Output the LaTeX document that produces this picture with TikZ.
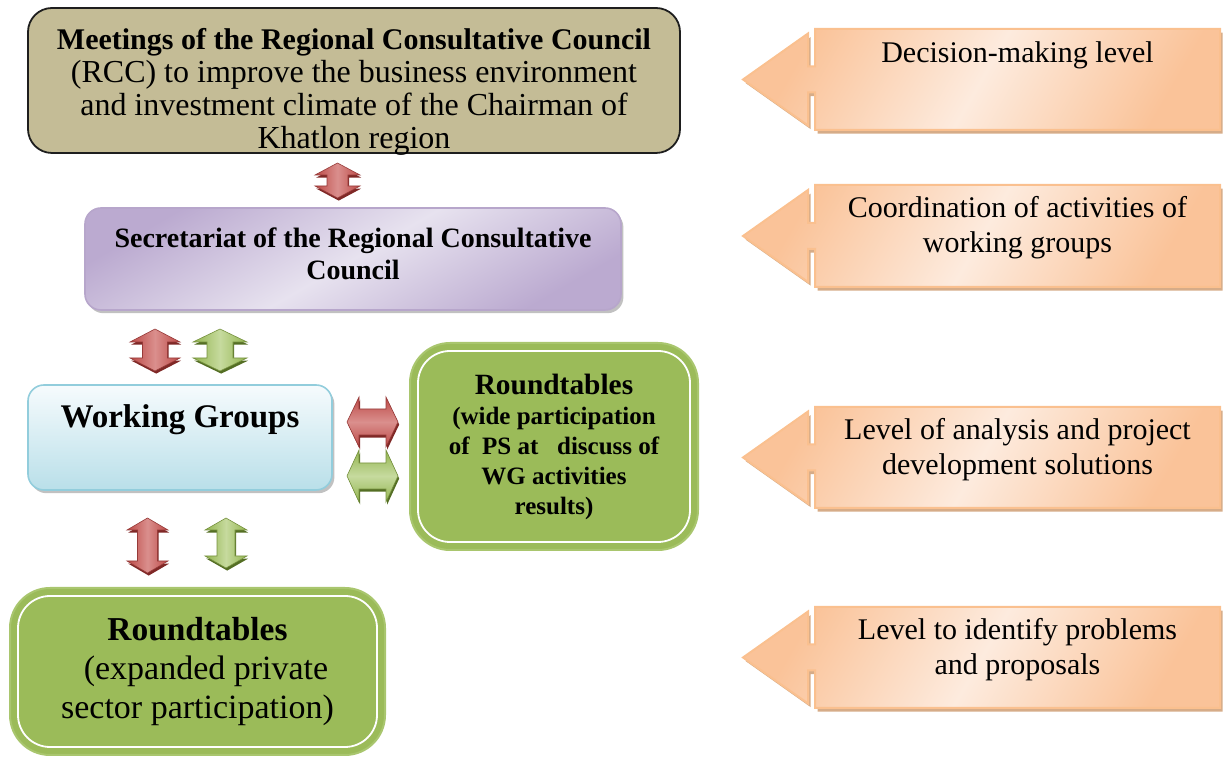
\documentclass[tikz,border=0pt]{standalone}
\usepackage{fontspec}
\setmainfont{Liberation Serif}
\usetikzlibrary{shadows,calc}
\definecolor{khaki}{HTML}{C4BC96}
\definecolor{khakiline}{HTML}{1E1E1E}
\definecolor{lilacA}{HTML}{BBAAD0}
\definecolor{lilacB}{HTML}{E7E2EF}
\definecolor{lilacline}{HTML}{B7A6CB}
\definecolor{blueA}{HTML}{F6FBFD}
\definecolor{blueB}{HTML}{B9DFE9}
\definecolor{blueline}{HTML}{92CDDC}
\definecolor{olive}{HTML}{9BBB59}
\definecolor{oliveline}{HTML}{A9C66E}
\definecolor{redA}{HTML}{BC4946}
\definecolor{redB}{HTML}{DA8F8D}
\definecolor{redS}{HTML}{7F2826}
\definecolor{grnA}{HTML}{93B54F}
\definecolor{grnB}{HTML}{C6DA9E}
\definecolor{grnS}{HTML}{546E24}
\definecolor{peachA}{HTML}{FAC399}
\definecolor{peachB}{HTML}{FDEBDE}
\definecolor{peachline}{HTML}{FAC08F}
\definecolor{peachS}{HTML}{D6AC88}
\tikzset{
  rccbox/.style={draw=khakiline, line width=0.9pt, fill=khaki, rounded corners=12pt, inner sep=0pt},
  secbox/.style={draw=lilacline, line width=0.8pt, rounded corners=8pt, top color=lilacA, bottom color=lilacA, middle color=lilacB, shading angle=30,
     drop shadow={shadow xshift=1.2pt, shadow yshift=-1.6pt, fill=black!35, opacity=0.7}},
  wgbox/.style={draw=blueline, line width=0.8pt, rounded corners=8pt, top color=blueA, bottom color=blueB,
     drop shadow={shadow xshift=1.2pt, shadow yshift=-1.6pt, fill=black!35, opacity=0.7}},
  grnbox/.style={draw=oliveline, line width=1pt, fill=olive, rounded corners=20pt, align=center, inner sep=0pt},
  innerline/.style={draw=white, line width=0.9pt, rounded corners=16pt},
  vred/.style={left color=redA, right color=redA, middle color=redB, draw=redA!80!black, line width=0.3pt,
     drop shadow={shadow xshift=0.6pt, shadow yshift=-1.3pt, fill=redS, opacity=1}},
  vgrn/.style={left color=grnA, right color=grnA, middle color=grnB, draw=grnA!80!black, line width=0.3pt,
     drop shadow={shadow xshift=0.6pt, shadow yshift=-1.3pt, fill=grnS, opacity=1}},
  hred/.style={top color=redA, bottom color=redA, middle color=redB, draw=redA!80!black, line width=0.3pt,
     drop shadow={shadow xshift=0.6pt, shadow yshift=-1.3pt, fill=redS, opacity=1}},
  hgrn/.style={top color=grnA, bottom color=grnA, middle color=grnB, draw=grnA!80!black, line width=0.3pt,
     drop shadow={shadow xshift=0.6pt, shadow yshift=-1.3pt, fill=grnS, opacity=1}},
  calloutstyle/.style={draw=peachline, line width=1pt, left color=peachA, right color=peachA, middle color=peachB, shading angle=60,
     drop shadow={shadow xshift=1.3pt, shadow yshift=-1.8pt, fill=peachS, opacity=1}},
  lvltext/.style={align=center, inner sep=0pt, font=\fontsize{15}{17.5}\selectfont},
}
% vertical double arrow: name, cx, cy, W, w, L, h, style
\newcommand{\vdarr}[8]{%
  \path[#8] (#2,{#3-#6/2}) -- ({#2+#4/2},{#3-#6/2+#7}) -- ({#2+#5/2},{#3-#6/2+#7}) -- ({#2+#5/2},{#3+#6/2-#7})
    -- ({#2+#4/2},{#3+#6/2-#7}) -- (#2,{#3+#6/2}) -- ({#2-#4/2},{#3+#6/2-#7}) -- ({#2-#5/2},{#3+#6/2-#7})
    -- ({#2-#5/2},{#3-#6/2+#7}) -- ({#2-#4/2},{#3-#6/2+#7}) -- cycle;
  \coordinate (#1) at (#2,#3);}
% horizontal double arrow: name, cx, cy, W(height of heads), w(shaft), L, h, style
\newcommand{\hdarr}[8]{%
  \path[#8] ({#2-#6/2},#3) -- ({#2-#6/2+#7},{#3-#4/2}) -- ({#2-#6/2+#7},{#3-#5/2}) -- ({#2+#6/2-#7},{#3-#5/2})
    -- ({#2+#6/2-#7},{#3-#4/2}) -- ({#2+#6/2},#3) -- ({#2+#6/2-#7},{#3+#4/2}) -- ({#2+#6/2-#7},{#3+#5/2})
    -- ({#2-#6/2+#7},{#3+#5/2}) -- ({#2-#6/2+#7},{#3+#4/2}) -- cycle;
  \coordinate (#1) at (#2,#3);}
% left-pointing callout: name, top, bottom
\newcommand{\callout}[3]{%
  \path[calloutstyle] (743,{(#2+#3)/2}) -- (808,{(#2+#3)/2-46}) -- (808,{(#2+#3)/2-13}) -- (815,{(#2+#3)/2-13})
    -- (815,#2) -- (1220,#2) -- (1220,#3) -- (815,#3) -- (815,{(#2+#3)/2+13}) -- (808,{(#2+#3)/2+13})
    -- (808,{(#2+#3)/2+46}) -- cycle;
  \coordinate (#1) at (1017.5,{(#2+#3)/2});}

\begin{document}
\begin{tikzpicture}[x=0.5pt,y=-0.5pt]
\useasboundingbox (0,0) rectangle (1223,758);

% top box
\node[rccbox, minimum width=326pt, minimum height=72.5pt] (rcc) at (354,80.5) {};
\node[align=center, inner sep=0pt, font=\fontsize{16}{16.5}\selectfont] (rcctext) at (354,92)
  {{\bfseries\fontsize{15}{16.5}\selectfont Meetings of the Regional Consultative Council}\\
   (RCC) to improve the business environment\\
   and investment climate of the Chairman of\\
   Khatlon region};

% secretariat
\node[secbox, minimum width=268pt, minimum height=51pt] (sec) at (353,259) {};
\node[align=center, inner sep=0pt, font=\bfseries\fontsize{14}{16}\selectfont] (sectext) at (353,254)
  {Secretariat of the Regional Consultative\\Council};

% working groups
\node[wgbox, minimum width=152pt, minimum height=52.5pt] (wg) at (180,437.5) {};
\node[inner sep=0pt, font=\bfseries\fontsize{16.5}{18}\selectfont] (wgtext) at (180,420) {Working Groups};

% roundtables right
\node[grnbox, minimum width=144pt, minimum height=103.5pt, font=\bfseries\fontsize{12.5}{15}\selectfont] (rt1) at (554,446.5)
  {{\fontsize{14.7}{15}\selectfont Roundtables}\\(wide participation\\of\ \ PS at\ \ \ discuss of\\WG activities\\results)};
\draw[innerline] ([shift={(4.5pt,-4.5pt)}]rt1.north west) rectangle ([shift={(-4.5pt,4.5pt)}]rt1.south east);

% roundtables bottom
\node[grnbox, minimum width=187.5pt, minimum height=83.5pt, font=\fontsize{17}{19.5}\selectfont] (rt2) at (197.5,671.5)
  {{\bfseries\fontsize{16.7}{19.5}\selectfont Roundtables}\\\ \ (expanded private\\sector participation)};
\draw[innerline] ([shift={(4.5pt,-4.5pt)}]rt2.north west) rectangle ([shift={(-4.5pt,4.5pt)}]rt2.south east);

% arrows
\vdarr{a1}{337.5}{180.5}{45}{21}{35}{12}{vred}
\vdarr{a2}{155}{350}{50}{25}{42}{13}{vred}
\vdarr{a3}{220}{350}{54}{26}{42}{13}{vgrn}
\hdarr{a4}{372.5}{422}{50}{26}{51}{12}{hred}
\hdarr{a5}{372.5}{476}{52}{26}{51}{12}{hgrn}
\vdarr{a6}{147.5}{545.5}{41}{20}{55}{12}{vred}
\vdarr{a7}{226}{543}{42}{18}{50}{12}{vgrn}

% callouts
\callout{c1}{29}{130}
\callout{c2}{185}{287}
\callout{c3}{407}{508}
\callout{c4}{607}{708}
\node[lvltext] (t1) at (1017.5,55) {Decision-making level};
\node[lvltext] (t2) at (1017.5,227.5) {Coordination of activities of\\working groups};
\node[lvltext] (t3) at (1017.5,449.5) {Level of analysis and project\\development solutions};
\node[lvltext] (t4) at (1017.5,649.5) {Level to identify problems\\and proposals};
\end{tikzpicture}
\end{document}
